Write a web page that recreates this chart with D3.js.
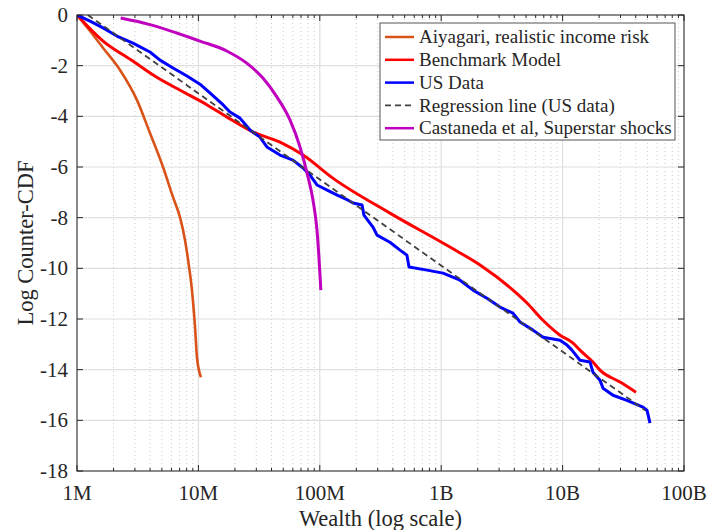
<!DOCTYPE html>
<html>
<head>
<meta charset="utf-8">
<script src="https://cdn.jsdelivr.net/npm/d3@7"></script>
</head>
<body style="margin:0">
<script>
/* global d3 */

// wealth in millions of dollars, y = log of the counter-CDF
const aiyagariWealth = [1, 1.28, 1.64, 2.26, 3.12, 3.99, 5.11, 6.18, 7.05, 7.76, 8.38, 8.85, 9.38, 9.73, 10.5]
const aiyagariLogCcdf = [0, -0.63, -1.30, -2.17, -3.36, -4.66, -6.00, -7.19, -7.98, -8.89, -9.95, -10.86, -12.32, -13.51, -14.30]

const benchmarkWealth = [1, 1.64, 2.8, 4.5, 7.4, 11.8, 17.2, 28.2, 47, 72.8, 128, 378, 1180, 2090, 3900, 5090, 6890, 9530, 12190, 13900, 17780, 20320, 29720, 40270]
const benchmarkLogCcdf = [0, -1.03, -1.78, -2.45, -3.02, -3.55, -4.03, -4.62, -5.02, -5.53, -6.44, -7.82, -9.16, -9.87, -10.86, -11.37, -12.05, -12.64, -12.95, -13.23, -13.70, -14.02, -14.49, -14.89]

const usWealth = [1, 1.28, 1.64, 2.13, 2.89, 3.99, 4.83, 6.18, 8.05, 10.3, 12.5, 16.0, 18.2, 22.0, 26.6, 32.1, 36.7, 47.0, 60.1, 72.8, 83.0, 94.8, 115, 139, 171, 188, 223, 231, 274, 296, 378, 458, 522, 543, 764, 1035, 1429, 1828, 2382, 3048, 3899, 4457, 5702, 6902, 9528, 10860, 11940, 13900, 16830, 17780, 20320, 21530, 26000, 33880, 45920, 49550, 52480]
const usLogCcdf = [0, -0.24, -0.51, -0.83, -1.11, -1.46, -1.78, -2.09, -2.41, -2.73, -3.08, -3.55, -3.83, -4.07, -4.54, -4.82, -5.21, -5.53, -5.73, -6.04, -6.32, -6.71, -6.91, -7.11, -7.31, -7.42, -7.50, -7.90, -8.37, -8.69, -8.97, -9.28, -9.48, -9.95, -10.07, -10.19, -10.47, -10.86, -11.18, -11.53, -11.77, -12.12, -12.44, -12.72, -12.84, -13.03, -13.23, -13.63, -13.70, -14.10, -14.42, -14.73, -15.01, -15.21, -15.48, -15.60, -16.11]

const regressionWealth = [1.23, 47750]
const regressionLogCcdf = [0, -15.6]

const castanedaWealth = [2.29, 3.99, 6.62, 10.3, 17.1, 25.0, 34.0, 44.4, 56.9, 68.7, 80.0, 87.9, 94.8, 98.4, 102]
const castanedaLogCcdf = [-0.12, -0.38, -0.71, -1.03, -1.42, -1.90, -2.49, -3.24, -4.15, -5.21, -6.40, -7.31, -8.49, -9.56, -10.86]

const xTickValues = [1, 10, 100, 1000, 10000, 100000]
const xTickLabels = ['1M', '10M', '100M', '1B', '10B', '100B']
const yTickValues = [0, -2, -4, -6, -8, -10, -12, -14, -16, -18]

const series = [
  { name: 'Aiyagari, realistic income risk', x: aiyagariWealth, y: aiyagariLogCcdf, color: '#D95319', width: 2.6, smooth: true },
  { name: 'Benchmark Model', x: benchmarkWealth, y: benchmarkLogCcdf, color: '#FF0000', width: 3, smooth: true },
  { name: 'US Data', x: usWealth, y: usLogCcdf, color: '#0000FF', width: 3 },
  { name: 'Regression line (US data)', x: regressionWealth, y: regressionLogCcdf, color: '#404040', width: 1.8, dash: '6,4' },
  { name: 'Castaneda et al, Superstar shocks', x: castanedaWealth, y: castanedaLogCcdf, color: '#BF00BF', width: 3, smooth: true }
]

const width = 710
const height = 530
const margin = { top: 15, right: 26, bottom: 59, left: 77 }
const w = width - margin.left - margin.right
const h = height - margin.top - margin.bottom
const axisColor = '#262626'
const fontFamily = "'Liberation Serif', monospace"

const x = d3.scaleLog().domain([1, 100000]).range([0, w])
const y = d3.scaleLinear().domain([-18, 0]).range([h, 0])

const svg = d3.select('body').append('svg')
  .attr('width', width)
  .attr('height', height)

const g = svg.append('g')
  .attr('transform', 'translate(' + margin.left + ',' + margin.top + ')')

// grid
const allX = x.ticks()
const minorX = allX.filter(function (d) { return !xTickValues.includes(d) })

g.append('g').selectAll('line')
  .data(minorX).enter().append('line')
  .attr('x1', d => x(d)).attr('x2', d => x(d))
  .attr('y1', 0).attr('y2', h)
  .attr('stroke', '#bdbdbd')
  .attr('stroke-width', 0.8)
  .attr('stroke-dasharray', '1,3')

g.append('g').selectAll('line')
  .data(xTickValues).enter().append('line')
  .attr('x1', d => x(d)).attr('x2', d => x(d))
  .attr('y1', 0).attr('y2', h)
  .attr('stroke', '#dfdfdf')
  .attr('stroke-width', 1.2)

g.append('g').selectAll('line')
  .data(yTickValues).enter().append('line')
  .attr('x1', 0).attr('x2', w)
  .attr('y1', d => y(d)).attr('y2', d => y(d))
  .attr('stroke', '#dfdfdf')
  .attr('stroke-width', 1.2)

// lines
const line = d3.line()
  .x(d => x(d[0]))
  .y(d => y(d[1]))
const smoothLine = d3.line()
  .x(d => x(d[0]))
  .y(d => y(d[1]))
  .curve(d3.curveMonotoneX)

g.append('clipPath').attr('id', 'clip')
  .append('rect').attr('width', w).attr('height', h)

g.append('g').attr('clip-path', 'url(#clip)')
  .selectAll('path')
  .data(series).enter().append('path')
  .attr('d', s => (s.smooth ? smoothLine : line)(s.x.map((v, i) => [v, s.y[i]])))
  .attr('fill', 'none')
  .attr('stroke', s => s.color)
  .attr('stroke-width', s => s.width)
  .attr('stroke-dasharray', s => s.dash || null)
  .attr('stroke-linejoin', 'round')

// box + ticks
g.append('rect')
  .attr('width', w).attr('height', h)
  .attr('fill', 'none')
  .attr('stroke', axisColor)
  .attr('stroke-width', 1)

const tickGroup = g.append('g').attr('stroke', axisColor).attr('stroke-width', 1)
xTickValues.forEach(function (d) {
  tickGroup.append('line').attr('x1', x(d)).attr('x2', x(d)).attr('y1', h).attr('y2', h - 6)
  tickGroup.append('line').attr('x1', x(d)).attr('x2', x(d)).attr('y1', 0).attr('y2', 6)
})
minorX.forEach(function (d) {
  tickGroup.append('line').attr('x1', x(d)).attr('x2', x(d)).attr('y1', h).attr('y2', h - 3)
  tickGroup.append('line').attr('x1', x(d)).attr('x2', x(d)).attr('y1', 0).attr('y2', 3)
})
yTickValues.forEach(function (d) {
  tickGroup.append('line').attr('x1', 0).attr('x2', 6).attr('y1', y(d)).attr('y2', y(d))
  tickGroup.append('line').attr('x1', w).attr('x2', w - 6).attr('y1', y(d)).attr('y2', y(d))
})

// tick labels
g.append('g').selectAll('text')
  .data(xTickValues).enter().append('text')
  .attr('x', d => x(d))
  .attr('y', h + 29)
  .attr('text-anchor', 'middle')
  .style('font-family', fontFamily)
  .style('font-size', '21px')
  .style('fill', axisColor)
  .text((d, i) => xTickLabels[i])

g.append('g').selectAll('text')
  .data(yTickValues).enter().append('text')
  .attr('x', -9)
  .attr('y', d => y(d))
  .attr('dy', '0.33em')
  .attr('text-anchor', 'end')
  .style('font-family', fontFamily)
  .style('font-size', '21px')
  .style('fill', axisColor)
  .text(d => d === 0 ? '0' : '-' + Math.abs(d))

// axis titles
g.append('text')
  .attr('x', w / 2)
  .attr('y', h + 55)
  .attr('text-anchor', 'middle')
  .style('font-family', fontFamily)
  .style('font-size', '22.5px')
  .style('fill', axisColor)
  .text('Wealth (log scale)')

g.append('text')
  .attr('transform', 'translate(' + (-44) + ',' + (h / 2) + ') rotate(-90)')
  .attr('text-anchor', 'middle')
  .style('font-family', fontFamily)
  .style('font-size', '22.5px')
  .style('fill', axisColor)
  .text('Log Counter-CDF')

// legend
const legend = svg.append('g').attr('transform', 'translate(380,23)')
legend.append('rect')
  .attr('width', 295).attr('height', 117)
  .attr('fill', '#fff')
  .attr('stroke', '#555')
  .attr('stroke-width', 1)

const item = legend.selectAll('g.item')
  .data(series).enter().append('g')
  .attr('class', 'item')
  .attr('transform', (d, i) => 'translate(0,' + (14 + i * 22.8) + ')')

item.append('line')
  .attr('x1', 5).attr('x2', 34)
  .attr('stroke', d => d.color)
  .attr('stroke-width', d => Math.min(d.width, 2.5))
  .attr('stroke-dasharray', d => d.dash || null)

item.append('text')
  .attr('x', 39)
  .attr('dy', '0.33em')
  .style('font-family', fontFamily)
  .style('font-size', '19px')
  .style('fill', axisColor)
  .text(d => d.name)
</script>
</body>
</html>
